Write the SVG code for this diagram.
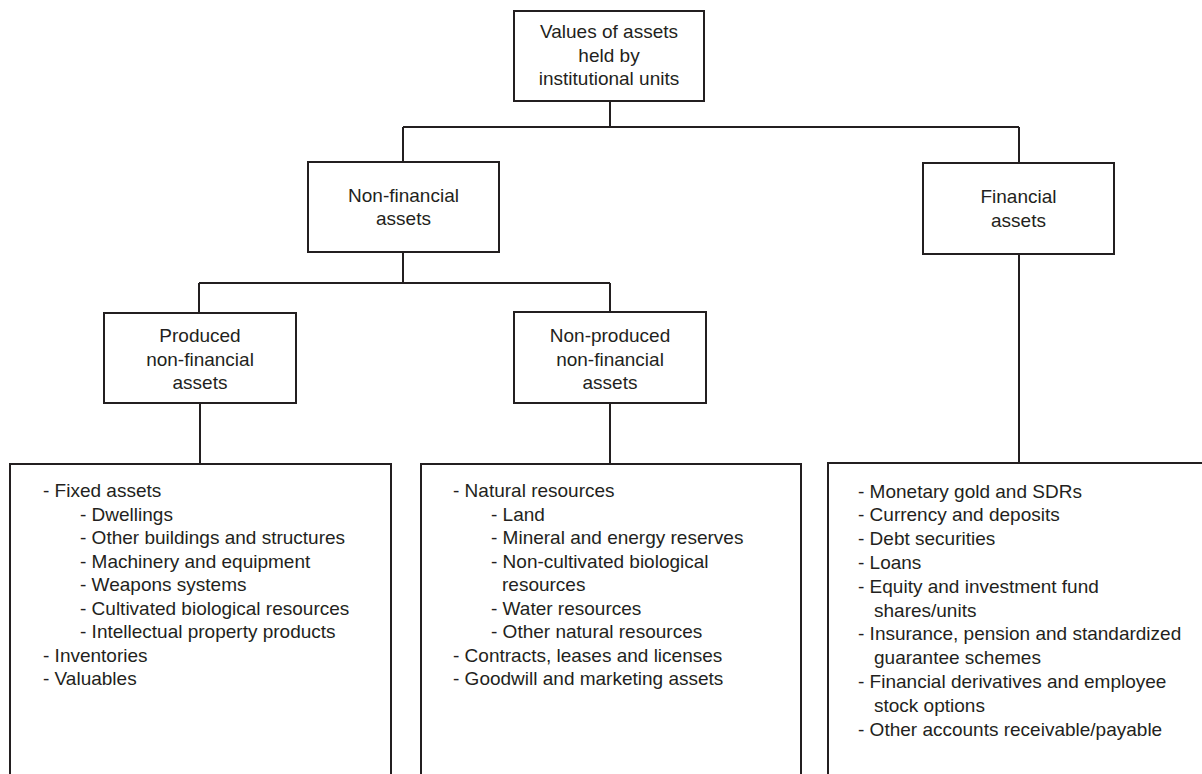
<svg xmlns="http://www.w3.org/2000/svg" width="1202" height="774" viewBox="0 0 1202 774">
<style>
  .box { fill: #ffffff; stroke: #231f20; stroke-width: 2; }
  .conn { fill: none; stroke: #231f20; stroke-width: 2; }
  text { font-family: "Liberation Sans", Arial, sans-serif; font-size: 19px; fill: #231f20; }
  .c { text-anchor: middle; }
</style>
<rect x="0" y="0" width="1202" height="774" fill="#ffffff"/>
<g id="connectors">
  <path class="conn" d="M610,101 V127 M403,127 H1019 M403,127 V162 M1019,127 V163"/>
  <path class="conn" d="M403,252 V283 M199,283 H610 M199,283 V313 M610,283 V312"/>
  <path class="conn" d="M200,403 V464 M610,403 V464 M1019,254 V463"/>
</g>
<g id="node-root">
  <rect class="box" x="514" y="11" width="190" height="90"/>
  <text class="c" x="609" y="38">Values of assets</text>
  <text class="c" x="609" y="61.5">held by</text>
  <text class="c" x="609" y="85">institutional units</text>
</g>
<g id="node-nonfinancial">
  <rect class="box" x="308" y="162" width="191" height="90"/>
  <text class="c" x="403.5" y="202">Non-financial</text>
  <text class="c" x="403.5" y="225">assets</text>
</g>
<g id="node-financial">
  <rect class="box" x="923" y="163" width="191" height="91"/>
  <text class="c" x="1018.5" y="203">Financial</text>
  <text class="c" x="1018.5" y="226.5">assets</text>
</g>
<g id="node-produced">
  <rect class="box" x="104" y="313" width="192" height="90"/>
  <text class="c" x="200" y="342">Produced</text>
  <text class="c" x="200" y="365.5">non-financial</text>
  <text class="c" x="200" y="389">assets</text>
</g>
<g id="node-nonproduced">
  <rect class="box" x="514" y="312" width="192" height="91"/>
  <text class="c" x="610" y="342">Non-produced</text>
  <text class="c" x="610" y="365.5">non-financial</text>
  <text class="c" x="610" y="389">assets</text>
</g>
<g id="node-produced-list">
  <rect class="box" x="10" y="464" width="381" height="340"/>
  <text x="43" y="497">- Fixed assets</text>
  <text x="80" y="520.5">- Dwellings</text>
  <text x="80" y="544">- Other buildings and structures</text>
  <text x="80" y="567.5">- Machinery and equipment</text>
  <text x="80" y="591">- Weapons systems</text>
  <text x="80" y="614.5">- Cultivated biological resources</text>
  <text x="80" y="638">- Intellectual property products</text>
  <text x="43" y="661.5">- Inventories</text>
  <text x="43" y="685">- Valuables</text>
</g>
<g id="node-nonproduced-list">
  <rect class="box" x="421" y="464" width="380" height="340"/>
  <text x="453" y="497">- Natural resources</text>
  <text x="491" y="520.5">- Land</text>
  <text x="491" y="544">- Mineral and energy reserves</text>
  <text x="491" y="567.5">- Non-cultivated biological</text>
  <text x="502" y="591">resources</text>
  <text x="491" y="614.5">- Water resources</text>
  <text x="491" y="638">- Other natural resources</text>
  <text x="453" y="661.5">- Contracts, leases and licenses</text>
  <text x="453" y="685">- Goodwill and marketing assets</text>
</g>
<g id="node-financial-list">
  <rect class="box" x="828" y="463" width="400" height="341"/>
  <text x="858" y="497.5">- Monetary gold and SDRs</text>
  <text x="858" y="521.3">- Currency and deposits</text>
  <text x="858" y="545.1">- Debt securities</text>
  <text x="858" y="568.9">- Loans</text>
  <text x="858" y="592.7">- Equity and investment fund</text>
  <text x="874" y="616.5">shares/units</text>
  <text x="858" y="640.3">- Insurance, pension and standardized</text>
  <text x="874" y="664.1">guarantee schemes</text>
  <text x="858" y="687.9">- Financial derivatives and employee</text>
  <text x="874" y="711.7">stock options</text>
  <text x="858" y="735.5">- Other accounts receivable/payable</text>
</g>
</svg>
